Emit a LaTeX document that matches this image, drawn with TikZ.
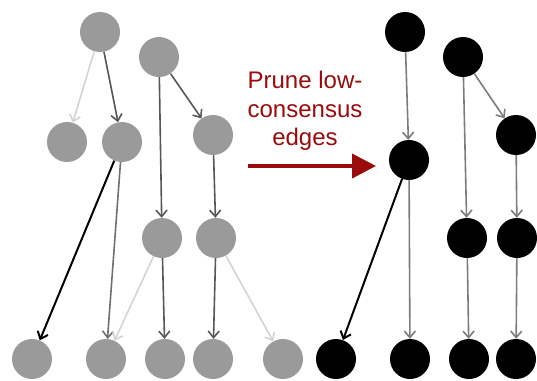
\documentclass[tikz,border=0pt]{standalone}
\usepackage{fontspec}
\setmainfont{Liberation Sans}
\usetikzlibrary{arrows.meta}
\definecolor{nodegray}{HTML}{9A9A9A}
\definecolor{edgedark}{HTML}{575757}
\definecolor{edgemid}{HTML}{707070}
\definecolor{edgelight}{HTML}{D4D4D4}
\definecolor{edgeright}{HTML}{7C7C7C}
\definecolor{prunered}{HTML}{9A0B0B}
\tikzset{
  vtx/.style={circle, minimum size=40pt, inner sep=0pt, fill=nodegray},
  vtxkept/.style={circle, minimum size=40pt, inner sep=0pt, fill=black},
  tip/.style={-{Straight Barb[length=6.5pt,width=11pt]}, line width=1.6pt},
  edark/.style={tip, draw=edgedark},
  emid/.style={tip, draw=edgemid},
  elight/.style={tip, draw=edgelight},
  eblack/.style={tip, draw=black, line width=2pt},
  eright/.style={tip, draw=edgeright},
  caption/.style={text=prunered, font=\fontsize{24pt}{28.5pt}\selectfont, align=center},
  bigarrow/.style={draw=prunered, line width=4pt, -{Triangle[length=24pt,width=24pt]}}
}
\begin{document}
\begin{tikzpicture}[x=1pt,y=-1pt]
\useasboundingbox (0,0) rectangle (537,380);

% full tree before pruning
\node[vtx] (a) at (100,32) {};
\node[vtx] (b) at (159,57) {};
\node[vtx] (c) at (67,142) {};
\node[vtx] (d) at (122,142) {};
\node[vtx] (e) at (213,135) {};
\node[vtx] (f) at (162,238) {};
\node[vtx] (g) at (216,238) {};
\node[vtx] (h) at (32,359) {};
\node[vtx] (i) at (106,359) {};
\node[vtx] (j) at (165,359) {};
\node[vtx] (k) at (213,359) {};
\node[vtx] (l) at (283,359) {};

\draw[elight] (a) -- (c);
\draw[edark] (a) -- (d);
\draw[edark] (b) -- (f);
\draw[edark] (b) -- (e);
\draw[eblack] (d) -- (h);
\draw[emid] (d) -- (i);
\draw[edark] (e) -- (g);
\draw[elight] (f) -- (i);
\draw[edark] (f) -- (j);
\draw[edark] (g) -- (k);
\draw[elight] (g) -- (l);

% pruning step
\node[caption] (lbl) at (305,111) {Prune low-\\consensus\\edges};
\coordinate (pstart) at (248,166);
\coordinate (pend) at (376,166);
\draw[bigarrow] (pstart) -- (pend);

% tree after pruning
\node[vtxkept] (a2) at (405,32) {};
\node[vtxkept] (b2) at (463,57) {};
\node[vtxkept] (d2) at (409,160) {};
\node[vtxkept] (e2) at (516,135) {};
\node[vtxkept] (f2) at (467,238) {};
\node[vtxkept] (g2) at (517,238) {};
\node[vtxkept] (h2) at (336,359) {};
\node[vtxkept] (i2) at (410,359) {};
\node[vtxkept] (j2) at (469,359) {};
\node[vtxkept] (k2) at (516,359) {};

\draw[eright] (a2) -- (d2);
\draw[eright] (b2) -- (f2);
\draw[eright] (b2) -- (e2);
\draw[eblack] (d2) -- (h2);
\draw[eright] (d2) -- (i2);
\draw[eright] (e2) -- (g2);
\draw[eright] (f2) -- (j2);
\draw[eright] (g2) -- (k2);
\end{tikzpicture}
\end{document}
